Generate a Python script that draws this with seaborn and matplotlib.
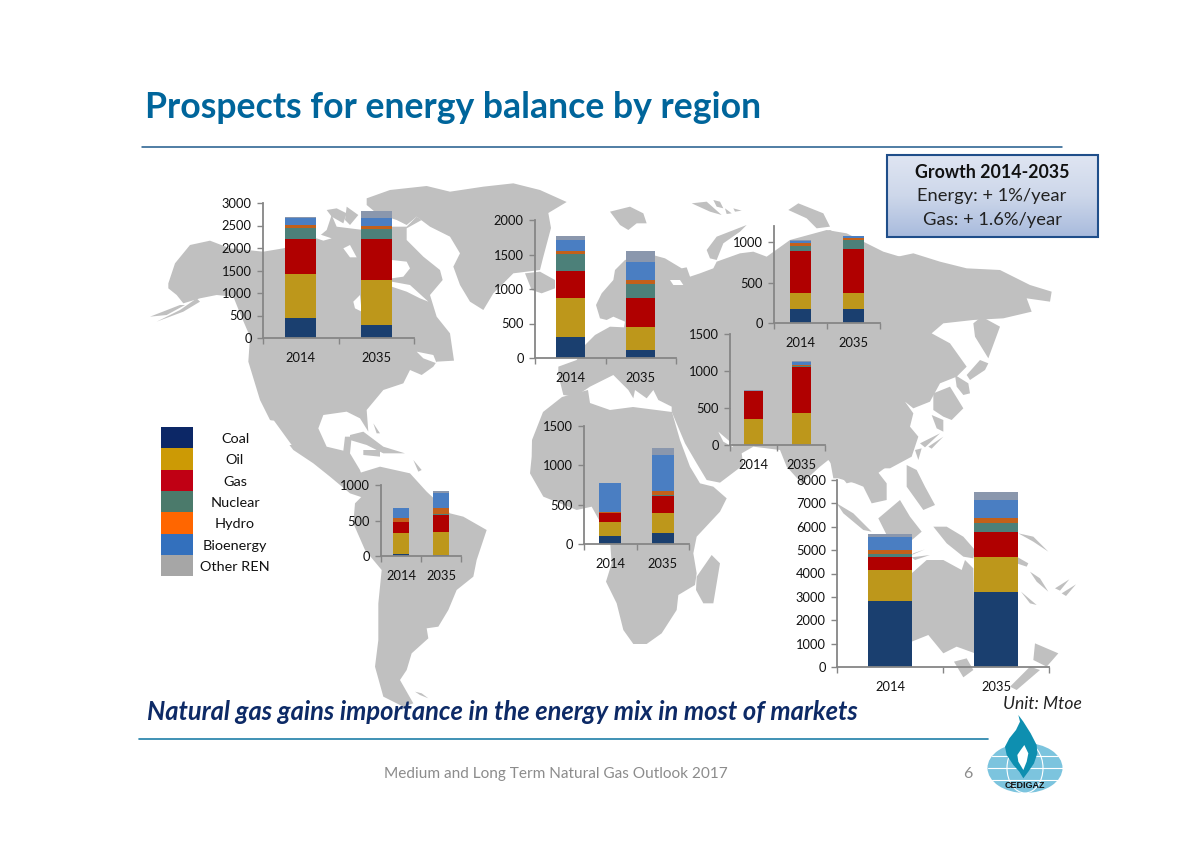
import numpy as np
import pandas as pd
import matplotlib
matplotlib.use("Agg")
import matplotlib.pyplot as plt
from matplotlib.patches import Polygon, Rectangle, Ellipse
import seaborn as sns

# values, Mtoe, stacked in the order of fuels
fuels = ["Coal", "Oil", "Gas", "Nuclear", "Hydro", "Bioenergy", "Other REN"]
years = ["2014", "2035"]

north_america_2014 = [440, 990, 765, 245, 65, 155, 25]
north_america_2035 = [300, 990, 905, 225, 80, 165, 165]
europe_2014 = [304, 568, 396, 241, 48, 154, 58]
europe_2035 = [116, 327, 429, 203, 58, 255, 169]
eurasia_2014 = [178, 190, 524, 58, 45, 21, 8]
eurasia_2035 = [178, 190, 545, 111, 29, 25, 4]
middle_east_2014 = [0, 355, 375, 0, 3, 3, 2]
middle_east_2035 = [2, 432, 625, 5, 15, 45, 15]
south_america_2014 = [24, 302, 146, 5, 61, 137, 2]
south_america_2035 = [14, 331, 236, 4, 95, 203, 33]
africa_2014 = [106, 169, 118, 4, 4, 376, 4]
africa_2035 = [135, 258, 215, 9, 51, 469, 80]
asia_2014 = [2815, 1328, 572, 114, 171, 572, 114]
asia_2035 = [3200, 1515, 1057, 400, 214, 743, 371]

bar_colors = ["#1a3f6f", "#bd971b", "#b00000", "#4c8079", "#c2601a", "#4a7ec2", "#8a97ad"]
legend_colors = ["#0c2766", "#cc9a05", "#c00014", "#4b7a6b", "#ff6600", "#3370bd", "#a6a6a6"]

GRAY = "#c0c0c0"

z9 = (150, 170)
z10 = (300, 440)
z11 = (500, 190)
z12 = (800, 220)

greenland = [(650,105),(650,85),(720,60),(830,48),(900,65),(1000,50),(1090,40),(1170,60),(1250,96),(1195,129),(1203,174),(1179,264),
             (1170,300),(1090,310),(1030,370),(1000,420),(960,395),(930,345),(910,290),(930,250),(900,200),(840,170),(800,140),(770,165),(740,150),(680,130)]
north_america = [(55,340),(75,280),(120,225),(180,212),(240,235),(340,245),(400,235),(500,205),(530,180),(545,135),(560,170),(600,175),(640,180),
                 (730,170),(770,170),(800,140),(815,150),(770,175),(770,210),(820,260),(870,300),(878,330),(840,375),(860,440),(900,490),(912,572),
                 (860,575),(850,590),(815,615),(780,600),(760,640),(700,660),(650,720),(655,785),(630,745),(590,725),(520,735),(505,775),(530,830),
                 (580,842),(585,800),(605,800),(600,850),(630,900),(660,990),(600,970),(540,920),(490,880),(430,840),(360,750),(330,690),(295,575),
                 (300,500),(270,430),(250,380),(200,375),(150,385),(100,400),(80,375),(55,355)]
na_holes = [[(725,270),(770,275),(780,295),(760,320),(725,325)],
            [(725,335),(780,345),(835,395),(810,385),(770,365),(725,350)],
            [(610,395),(630,375),(635,425),(615,415)],
            [(500,190),(545,205),(520,212),(500,205)],
            [(580,235),(600,225),(620,262),(600,262)],
            [(800,545),(850,555),(860,580),(820,565)],
            [(355,750),(372,752),(425,825),(410,825)]]
na_islands = [[(530,120),(560,115),(590,130),(580,160),(545,140)],
              [(590,110),(625,135),(600,165),(585,150)],
              [(600,795),(640,785),(700,830),(765,850),(700,850),(650,825),(600,810)],
              [(640,840),(690,840),(690,860),(640,855)],
              [(670,760),(690,790),(680,790)],
              [(790,870),(815,900),(805,905)],
              [(0,440),(90,405),(105,405),(50,435)],
              [(20,455),(100,425),(150,395),(140,385),(90,420)]]

south_america = [(175,100),(240,80),(330,100),(380,155),(450,220),(490,230),(560,270),(530,360),(520,410),(470,450),(445,510),(415,560),
                 (380,565),(385,595),(335,640),(320,690),(300,720),(340,790),(310,800),(250,770),(225,680),(235,600),(235,490),(245,390),
                 (195,330),(160,250),(165,190),(185,170)]
africa = [(696,0),(729,-84),(786,-129),(864,-150),(870,-111),(930,-90),(999,-99),(1116,-84),(1140,0),(1170,80),(1200,130),(1240,140),
          (1280,175),(1260,215),(1190,290),(1180,340),(1190,400),(1185,435),(1135,465),(1130,510),(1085,580),(1040,612),(1000,612),
          (970,570),(950,490),(918,425),(935,370),(930,300),(875,200),(830,210),(730,170),(690,100),(695,50)]
madagascar = [(1190,410),(1235,345),(1260,370),(1240,490),(1210,490),(1188,450)]
falklands = [(345,755),(365,760),(385,775),(360,765)]

eurasia_west = [(175,555),(175,530),(230,510),(255,465),(285,435),(330,410),(372,412),(375,395),(340,380),(320,390),(300,385),(288,345),
                (305,310),(340,270),(345,240),(375,210),(440,190),(495,205),(545,235),(560,232),(570,260),(600,250),(640,235),(650,215),
                (720,190),(760,185),(800,200),(870,150),(980,120),(1040,130),(1100,160),(1150,185),(1200,200),(1200,800),(1120,860),
                (1040,880),(985,810),(960,830),(905,880),(860,830),(840,780),(760,770),(725,790),(730,825),(660,878),(620,870),(590,820),
                (555,760),(515,665),(515,650),(475,630),(460,600),(440,625),(405,600),(400,625),(385,600),(340,555),(310,570),(270,590),
                (255,600),(225,620),(190,615)]
eu_holes = [[(510,270),(540,270),(550,285),(520,285)],
            [(655,725),(690,755),(700,772),(670,755)]]
arctic_islands = [[(330,65),(390,50),(430,70),(440,100),(410,100),(385,120),(360,105)],
                  [(575,40),(620,35),(665,75),(630,65)],
                  [(640,30),(660,35),(670,55),(650,50)],
                  [(675,55),(695,70),(680,72)],
                  [(700,55),(725,62),(705,65)],
                  [(620,180),(650,140),(740,105),(720,125),(670,160),(650,210),(630,205)],
                  [(865,60),(895,40),(970,70),(990,110),(950,115),(920,85)],
                  [(75,250),(120,245),(165,270),(165,295),(125,310),(95,300)]]

eurasia_east = [(0,60),(90,30),(195,85),(270,115),(340,100),(420,125),(500,145),(600,150),(690,195),(755,215),(750,245),(680,235),(695,275),
                (610,295),(520,300),(430,310),(395,340),(450,370),(500,440),(470,470),(420,490),(390,545),(340,565),(315,545),(340,580),
                (330,620),(355,650),(335,710),(270,745),(225,745),(260,790),(260,840),(215,850),(190,800),(165,790),(115,775),(100,775),
                (90,720),(60,700),(0,700)]
east_land = [[(520,310),(545,290),(600,320),(565,415),(525,350)],
             [(110,850),(160,880),(215,935),(190,930),(130,880)],
             [(235,895),(300,840),(330,890),(365,935),(330,965),(260,945)],
             [(320,735),(350,750),(375,800),(405,855),(370,870),(320,800)],
             [(340,1000),(375,988),(335,1005)],
             [(335,1012),(390,1005),(345,1020)],
             [(400,920),(440,920),(490,950),(525,990),(520,1015),(490,1010),(440,970)],
             [(650,1010),(685,1030),(680,1040),(650,1030)],
             [(655,940),(700,950),(745,995),(700,965)],
             [(690,1055),(720,1075),(745,1115),(710,1085)],
             [(663,1115),(710,1155),(690,1150)],
             [(765,1105),(808,1078),(780,1112)],
             [(785,1120),(828,1093),(798,1128)],
             [(335,1060),(380,1020),(430,1020),(485,1050),(495,1020),(520,1045),(525,1300),(470,1280),(430,1300),(385,1245),(335,1265)],
             [(462,1325),(500,1315),(520,1350),(490,1372)],
             [(705,1270),(740,1285),(775,1300),(740,1340),(700,1320)],
             [(630,1400),(690,1340),(720,1350),(650,1410)],
             [(500,465),(540,420),(565,430),(555,450),(510,480)],
             [(450,395),(475,435),(465,455),(445,420)],
             [(465,465),(505,490),(510,520),(490,525),(470,500)],
             [(400,520),(450,500),(490,565),(455,600),(430,590),(400,570)],
             [(395,585),(430,600),(430,635),(410,625)],
             [(345,690),(365,685),(355,720)],
             [(360,670),(420,640),(375,682)],
             [(385,680),(430,650),(395,686)]]

# logo shapes, 3x crop at (960, 690)
z8 = (960, 690)
flame = [(175,75),(190,95),(212,130),(230,165),(232,190),(222,220),(205,245),(190,265),(178,245),(160,225),(140,195),(135,170),(148,145),(168,120),(180,95)]
flame_core = [(193,165),(205,190),(200,215),(190,240),(175,215),(172,195),(182,180)]

sns.set_style("white")
plt.rcParams["font.family"] = ["Lato", "DejaVu Sans"]

fig = plt.figure(figsize=(12, 8.48), dpi=100)
bg = fig.add_axes([0, 0, 1, 1], zorder=0)
bg.set_xlim(0, 1200)
bg.set_ylim(848, 0)
bg.axis("off")


def shape(origin, pts, color=GRAY, z=1):
    xy = [(origin[0] + x / 3, origin[1] + y / 3) for x, y in pts]
    bg.add_patch(Polygon(xy, closed=True, fc=color, ec="none", zorder=z))


for pts in [greenland, north_america]:
    shape(z9, pts)
for pts in na_islands:
    shape(z9, pts)
for pts in na_holes:
    shape(z9, pts, "white")
for pts in [south_america, africa, madagascar, falklands]:
    shape(z10, pts)
shape(z11, eurasia_west)
for pts in arctic_islands:
    shape(z11, pts)
shape(z12, eurasia_east)
for pts in east_land:
    shape(z12, pts)
for pts in eu_holes:
    shape(z11, pts, "white")


def stacked(left, top, right, bottom, ymax, ticks, v14, v35):
    ax = fig.add_axes([left / 1200, 1 - bottom / 848, (right - left) / 1200, (bottom - top) / 848], zorder=2)
    ax.patch.set_alpha(0)
    df = pd.DataFrame({"year": np.repeat(years, len(fuels)),
                       "fuel": fuels * 2,
                       "value": v14 + v35})
    base = np.zeros(2)
    for fuel, color in zip(fuels, bar_colors):
        sub = df[df["fuel"] == fuel]
        sns.barplot(data=sub, x="year", y="value", order=years, color=color, saturation=1,
                    width=0.41, bottom=base, linewidth=0, errorbar=None, ax=ax)
        base = base + sub["value"].to_numpy()
    ax.set_xlim(-0.5, 1.5)
    ax.set_ylim(0, ymax)
    ax.set_yticks(ticks)
    ax.set_xticks([-0.5, 0.5, 1.5])
    ax.set_xticklabels([])
    ax.set_xticks([0, 1], minor=True)
    ax.set_xticklabels(years, minor=True)
    ax.set_xlabel("")
    ax.set_ylabel("")
    for side in ["top", "right"]:
        ax.spines[side].set_visible(False)
    for side in ["left", "bottom"]:
        ax.spines[side].set_color("#868686")
        ax.spines[side].set_linewidth(1.3)
    ax.tick_params(axis="both", which="major", direction="out", length=4, width=1, color="#868686",
                   labelsize=9.3, labelcolor="#111111", pad=4, left=True, bottom=True)
    ax.tick_params(axis="x", which="minor", length=0, labelsize=9.3, labelcolor="#111111", pad=10)
    return ax


stacked(263, 203, 414, 338, 3000, range(0, 3001, 500), north_america_2014, north_america_2035)
stacked(535, 220, 676, 358, 2000, range(0, 2001, 500), europe_2014, europe_2035)
stacked(774, 226, 880, 323, 1200, [0, 500, 1000], eurasia_2014, eurasia_2035)
stacked(730, 334, 825, 445, 1500, range(0, 1501, 500), middle_east_2014, middle_east_2035)
stacked(381, 485, 461, 556, 1000, [0, 500, 1000], south_america_2014, south_america_2035)
stacked(584, 426, 689, 544, 1500, range(0, 1501, 500), africa_2014, africa_2035)
stacked(837, 480, 1049, 667, 8000, range(0, 8001, 1000), asia_2014, asia_2035)

# legend
for i, (name, color) in enumerate(zip(fuels, legend_colors)):
    bg.add_patch(Rectangle((161, 427 + i * 21.3), 32, 21.3, fc=color, ec="none", zorder=3))
    bg.text(235, 439 + i * 21.35, name, ha="center", va="center", fontsize=10.4, color="#111111", zorder=3)

# title and rules
bg.text(145, 108, "Prospects for energy balance by region", fontsize=25.7, fontweight="bold",
        color="#00659b", va="center", ha="left")
bg.plot([142, 1062], [147, 147], color="#1f5a8c", lw=1.1)
bg.plot([139, 988], [739, 739], color="#1f7fa8", lw=1.2)

# growth box
grad = np.linspace(0, 1, 64).reshape(-1, 1)
bg.imshow(grad, extent=(887, 1098, 237, 155), cmap=matplotlib.colors.LinearSegmentedColormap.from_list("box", ["#dfe5f2", "#cdd7ea", "#a9bbdd"]),
          aspect="auto", zorder=3)
bg.set_xlim(0, 1200)
bg.set_ylim(848, 0)
bg.add_patch(Rectangle((887, 155), 211, 82, fc="none", ec="#1f4e8a", lw=1.5, zorder=4))
bg.text(992, 172, "Growth 2014-2035", ha="center", va="center", fontsize=12.8, fontweight="bold", color="#111111", zorder=5)
bg.text(992, 196, "Energy: + 1%/year", ha="center", va="center", fontsize=13.2, color="#222222", zorder=5)
bg.text(992, 220, "Gas: + 1.6%/year", ha="center", va="center", fontsize=13.2, color="#222222", zorder=5)

# notes and footer
bg.text(147, 712, "Natural gas gains importance in the energy mix in most of markets", fontsize=18.4, fontweight="bold",
        fontstyle="italic", color="#0d2a66", va="center", ha="left", zorder=5)
bg.text(1042, 704, "Unit: Mtoe", fontsize=12.6, fontstyle="italic", color="#222222", va="center", ha="center", zorder=5)
bg.text(556, 774, "Medium and Long Term Natural Gas Outlook 2017", fontsize=11.1, color="#8c8c8c", va="center", ha="center")
bg.text(968, 774, "6", fontsize=11.5, color="#8c8c8c", va="center", ha="center")

# logo
bg.add_patch(Ellipse((1025, 768), 75, 50, fc="#7cc4de", ec="none", zorder=3))
for yy in [756, 768, 780]:
    half = 37.5 * np.sqrt(1 - ((yy - 768) / 25) ** 2)
    bg.plot([1025 - half, 1025 + half], [yy, yy], color="white", lw=0.8, zorder=4)
bg.add_patch(Ellipse((1025, 768), 36, 50, fc="none", ec="white", lw=0.8, zorder=4))
shape(z8, flame, "#0e8fb0", 5)
shape(z8, flame_core, "white", 6)
bg.text(1025, 786, "CEDIGAZ", fontsize=6.5, fontweight="bold", family=["Liberation Sans"], color="#111111",
        ha="center", va="center", zorder=7)

fig.savefig("out.png", dpi=100, facecolor="white")
